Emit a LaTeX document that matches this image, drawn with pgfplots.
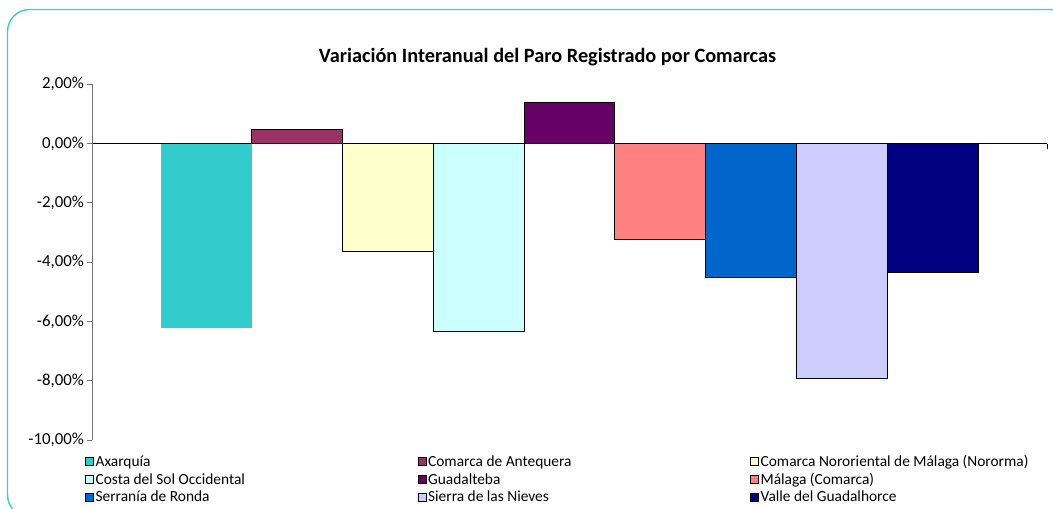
\documentclass[border=0pt]{standalone}
\usepackage{pgfplots}
\pgfplotsset{compat=1.18}
\usepackage{fontspec}
\setmainfont{Carlito}
\definecolor{frame}{HTML}{40CCCC}
\definecolor{c1}{HTML}{33CCCC}
\definecolor{c2}{HTML}{993366}
\definecolor{c3}{HTML}{FFFFCC}
\definecolor{c4}{HTML}{CCFFFF}
\definecolor{c5}{HTML}{660066}
\definecolor{c6}{HTML}{FF8080}
\definecolor{c7}{HTML}{0066CC}
\definecolor{c8}{HTML}{CCCCFF}
\definecolor{c9}{HTML}{000080}
\newcommand{\lw}[1]{\makebox[318pt][l]{#1}}
\begin{document}
\begin{tikzpicture}
\path[use as bounding box] (0,0) rectangle (1053pt,-509pt);
\clip (0,0) rectangle (1053pt,-509pt);
\draw[frame, line width=1.4pt, rounded corners=22pt] (7.5pt,-9.5pt) rectangle (1072pt,-517pt);
\node[font=\bfseries\fontsize{20.3}{23}\selectfont] at (547.5pt,-57pt) {Variación Interanual del Paro Registrado por Comarcas};
\begin{axis}[
  at={(92pt,-440pt)}, anchor=south west,
  scale only axis, width=955pt, height=355.7pt,
  xmin=0, xmax=10.52, ymin=-10, ymax=2,
  ybar, bar width=1, bar shift=0pt,
  axis x line=middle, axis y line=left,
  axis line style={-},
  x axis line style={black, line width=0.9pt},
  y axis line style={gray!90!black, line width=1pt},
  xtick=\empty,
  ytick={-10,-8,-6,-4,-2,0,2},
  yticklabels={{-10,00\%},{-8,00\%},{-6,00\%},{-4,00\%},{-2,00\%},{0,00\%},{2,00\%}},
  tick align=outside, major tick length=5pt,
  y tick style={gray!90!black, line width=1pt},
  yticklabel style={font=\fontsize{16.8}{18}\selectfont, inner sep=0pt, xshift=-3pt},
  legend columns=3,
  legend style={at={(-0.0073,-0.038)}, anchor=north west, draw=none, fill=none,
    inner sep=0pt, row sep=1.8pt,
    font=\fontsize{15.4}{16}\selectfont,
    nodes={inner sep=1.6pt, anchor=west},
    /tikz/every even column/.append style={column sep=2.5pt}},
  legend image code/.code={\draw[#1, line width=0.8pt] (0pt,-4pt) rectangle (8pt,4pt);},
  clip=false,
]
\addplot[fill=c1, draw=none] coordinates {(1.26,-6.21)};
\addlegendentry{\lw{Axarquía}}
\addplot[fill=c2, draw=black, line width=0.9pt] coordinates {(2.26,0.48)};
\addlegendentry{\lw{Comarca de Antequera}}
\addplot[fill=c3, draw=black, line width=0.9pt] coordinates {(3.26,-3.64)};
\addlegendentry{Comarca Nororiental de Málaga (Nororma)}
\addplot[fill=c4, draw=black, line width=0.9pt] coordinates {(4.26,-6.33)};
\addlegendentry{\lw{Costa del Sol Occidental}}
\addplot[fill=c5, draw=black, line width=0.9pt] coordinates {(5.26,1.40)};
\addlegendentry{\lw{Guadalteba}}
\addplot[fill=c6, draw=black, line width=0.9pt] coordinates {(6.26,-3.24)};
\addlegendentry{Málaga (Comarca)}
\addplot[fill=c7, draw=black, line width=0.9pt] coordinates {(7.26,-4.51)};
\addlegendentry{\lw{Serranía de Ronda}}
\addplot[fill=c8, draw=black, line width=0.9pt] coordinates {(8.26,-7.91)};
\addlegendentry{\lw{Sierra de las Nieves}}
\addplot[fill=c9, draw=black, line width=0.9pt] coordinates {(9.26,-4.36)};
\addlegendentry{Valle del Guadalhorce}
\draw[black, line width=0.9pt] (axis cs:10.52,0) -- ++(0pt,-5pt);
\end{axis}
\end{tikzpicture}
\end{document}
